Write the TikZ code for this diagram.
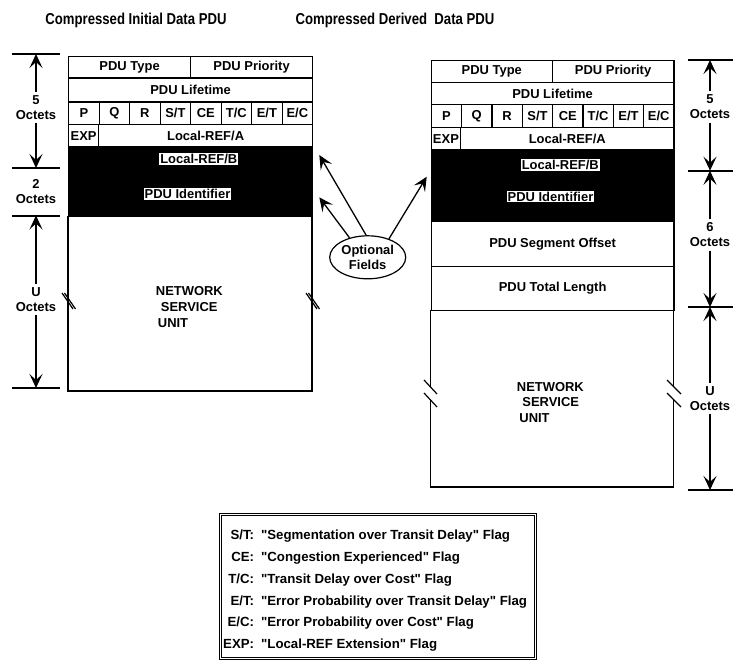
\documentclass[tikz,border=0pt]{standalone}
\usepackage{fontspec}
\setmainfont{Liberation Sans}
\usetikzlibrary{arrows.meta,shapes.geometric}
\begin{document}
\begin{tikzpicture}[x=1bp,y=-1bp,
	every node/.style={font=\fontsize{13}{15}\selectfont\bfseries},
	fld/.style 2 args={draw,line width=1.2bp,anchor=north west,inner sep=0pt,
		minimum width=#1bp,minimum height=#2bp},
	blk/.style={fill=white,inner sep=1bp},
	oct/.style={align=center},
	nsu/.style={anchor=west,inner sep=0pt,align=left,font=\fontsize{13}{16}\selectfont\bfseries},
	bar/.style={line width=2bp},
	brk/.style={line width=1.2bp},
	dim/.style={line width=1.3bp,-{Stealth[length=14bp,width=13bp,inset=6bp]}}]
\useasboundingbox (0,0) rectangle (733,661);
% titles
\node[font=\fontsize{13.2}{15}\selectfont\bfseries] (ltitle) at (136,20) {\scalebox{1}[1.2]{Compressed Initial Data PDU}};
\node[font=\fontsize{13.2}{15}\selectfont\bfseries] (rtitle) at (395,20) {\scalebox{1}[1.2]{Compressed Derived\ \ Data PDU}};
% initial PDU
\node[fld={122}{21.5}] (ltype) at (68,56) {PDU Type};
\node[fld={122}{21.5}] (lprio) at (190,56) {PDU Priority};
\node[fld={244}{24}] (llife) at (68,77.5) {PDU Lifetime};
\node[fld={30.5}{22.5}] (lp) at (68,101.5) {P};
\node[fld={30.5}{22.5}] (lq) at (98.5,101.5) {Q};
\node[fld={30.5}{22.5}] (lr) at (129,101.5) {R};
\node[fld={30.5}{22.5}] (lst) at (159.5,101.5) {S/T};
\node[fld={30.5}{22.5}] (lce) at (190,101.5) {CE};
\node[fld={30.5}{22.5}] (ltc) at (220.5,101.5) {T/C};
\node[fld={30.5}{22.5}] (let) at (251,101.5) {E/T};
\node[fld={30.5}{22.5}] (lec) at (281.5,101.5) {E/C};
\node[fld={30}{22}] (lexp) at (68,124) {EXP};
\node[fld={214}{22}] (lrefa) at (98,124) {Local-REF/A};
\node[fld={244}{70},fill=black] (lblk) at (68,146) {};
\node[blk] (lrefb) at (198.8,159) {Local-REF/B};
\node[blk] (lpid) at (187.5,194) {PDU Identifier};
\draw[brk] (68,216) -- (68,391) -- (312,391) -- (312,216);
\draw[brk] (62,293) -- (73,309) (64.5,293) -- (75.5,309);
\draw[brk] (306,293) -- (317,309) (308.5,293) -- (319.5,309);
\node[nsu] (lnsu) at (155.7,307) {NETWORK\\\hspace*{5bp}SERVICE\\\hspace*{2bp}UNIT};
% initial PDU octets
\draw[bar] (12,54) -- (60,54) (12,168) -- (60,168) (12,215.5) -- (60,215.5) (12,388) -- (60,388);
\coordinate (lb1) at (36,54);
\coordinate (lb2) at (36,168);
\coordinate (lb3) at (36,215.5);
\coordinate (lb4) at (36,388);
\node[oct] (l5oct) at (36,107.5) {5\\Octets};
\node[oct] (l2oct) at (36,191.5) {2\\Octets};
\node[oct] (luoct) at (36,299.5) {U\\Octets};
\draw[dim] (l5oct) -- (lb1);
\draw[dim] (l5oct) -- (lb2);
\draw[dim] (luoct) -- (lb3);
\draw[dim] (luoct) -- (lb4);
% derived PDU
\node[fld={121}{22}] (rtype) at (430.7,60) {PDU Type};
\node[fld={121.6}{22}] (rprio) at (551.7,60) {PDU Priority};
\node[fld={242.6}{22}] (rlife) at (430.7,82) {PDU Lifetime};
\node[fld={30.3}{23}] (rp) at (430.7,104) {P};
\node[fld={30.3}{23}] (rq) at (461,104) {Q};
\node[fld={30.3}{23}] (rr) at (491.3,104) {R};
\node[fld={30.3}{23}] (rst) at (521.7,104) {S/T};
\node[fld={30.3}{23}] (rce) at (552,104) {CE};
\node[fld={30.3}{23}] (rtc) at (582.3,104) {T/C};
\node[fld={30.3}{23}] (ret) at (612.7,104) {E/T};
\node[fld={30.3}{23}] (rec) at (643,104) {E/C};
\node[fld={29.3}{22}] (rexp) at (430.7,127) {EXP};
\node[fld={213.3}{22}] (rrefa) at (460,127) {Local-REF/A};
\node[fld={242.6}{72},fill=black] (rblk) at (430.7,149) {};
\node[blk] (rrefb) at (560.3,165) {Local-REF/B};
\node[blk] (rpid) at (550.5,196.7) {PDU Identifier};
\node[fld={242.6}{45}] (rseg) at (430.7,221) {PDU Segment Offset};
\node[fld={242.6}{44}] (rtot) at (430.7,266) {PDU Total Length};
\draw[brk] (430.7,310) -- (430.7,387) (430.7,400) -- (430.7,487) -- (673.3,487) -- (673.3,400) (673.3,387) -- (673.3,310);
\draw[brk] (424,380) -- (437,394) (424,393) -- (437,407);
\draw[brk] (667,380) -- (681,394) (667,393) -- (681,407);
\node[nsu] (rnsu) at (516.7,402.5) {NETWORK\\\hspace*{5.5bp}SERVICE\\\hspace*{2.5bp}UNIT};
% derived PDU octets
\draw[bar] (688,60) -- (733,60) (688,170.7) -- (733,170.7) (688,307) -- (733,307) (688,490) -- (733,490);
\coordinate (rb1) at (710,60);
\coordinate (rb2) at (710,170.7);
\coordinate (rb3) at (710,307);
\coordinate (rb4) at (710,490);
\node[oct] (r5oct) at (710,107) {5\\Octets};
\node[oct] (r6oct) at (710,235) {6\\Octets};
\node[oct] (ruoct) at (710,398.5) {U\\Octets};
\draw[dim] (r5oct) -- (rb1);
\draw[dim] (r5oct) -- (rb2);
\draw[dim] (r6oct) -- (rb2);
\draw[dim] (r6oct) -- (rb3);
\draw[dim] (ruoct) -- (rb3);
\draw[dim] (ruoct) -- (rb4);
% optional fields
\node[ellipse,draw,line width=1.2bp,minimum width=76bp,minimum height=43bp,inner sep=0pt,align=center] (opt) at (367.7,257.3) {Optional\\Fields};
\coordinate (oa1) at (319.3,155);
\coordinate (oa2) at (319.3,197.3);
\coordinate (oa3) at (426.7,176.7);
\draw[dim] (opt.94) -- (oa1);
\draw[dim] (opt.133) -- (oa2);
\draw[dim] (opt.41) -- (oa3);
% legend
\node[draw,double,double distance=1.3bp,line width=0.9bp,minimum width=315bp,minimum height=144bp,inner sep=0pt] (legbox) at (377.75,586.75) {};
\node[anchor=west,inner sep=0pt,font=\fontsize{13.3}{22}\selectfont\bfseries] (legtext) at (223,589.7) {\begin{tabular}{@{}r@{\hspace{7bp}}l@{}}
S/T: & \textquotedbl Segmentation over Transit Delay\textquotedbl{} Flag\\
CE: & \textquotedbl Congestion Experienced\textquotedbl{} Flag\\
T/C: & \textquotedbl Transit Delay over Cost\textquotedbl{} Flag\\
E/T: & \textquotedbl Error Probability over Transit Delay\textquotedbl{} Flag\\
E/C: & \textquotedbl Error Probability over Cost\textquotedbl{} Flag\\
EXP: & \textquotedbl Local-REF Extension\textquotedbl{} Flag
\end{tabular}};
\end{tikzpicture}
\end{document}
